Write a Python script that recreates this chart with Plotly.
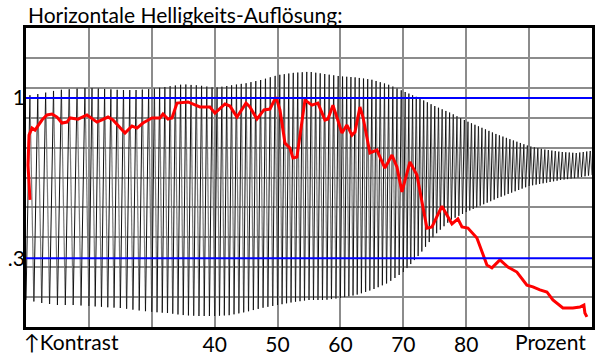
import numpy as np
import plotly.graph_objects as go

# ---- data ----
# red contrast curve (percent, contrast)
mtf_x = [10.64, 10.32, 10.48, 10.95, 11.43, 11.75, 12.54, 13.34, 14.13, 14.93, 15.72, 16.52, 17.0,
         18.27, 19.70, 21.29, 23.04, 23.83, 24.94, 25.74, 26.85, 27.65, 28.60, 30.03, 31.30, 31.78,
         32.58, 33.21, 34.01, 35.76, 37.66, 39.25, 40.05, 41.64, 42.43, 43.55, 44.98, 45.61, 46.72,
         47.84, 48.79, 49.75, 50.38, 51.18, 51.97, 52.45, 53.08, 54.36, 55.47, 56.42, 57.54, 58.01,
         58.81, 60.24, 61.03, 61.83, 62.31, 63.10, 63.58, 64.69, 65.80, 67.07, 68.19, 68.98, 69.78,
         71.05, 72.16, 73.75, 74.55, 76.14, 76.93, 77.73, 78.68, 79.32, 80.27, 81.70, 83.29, 84.09,
         85.36, 86.63, 88.06, 89.65, 90.60, 91.72, 92.83, 93.78, 95.37, 96.96, 98.08, 98.71, 98.87, 99.19]
mtf_y = [0.555, 0.707, 0.838, 0.869, 0.860, 0.873, 0.904, 0.926, 0.930, 0.917, 0.891, 0.895, 0.913,
         0.908, 0.926, 0.895, 0.917, 0.904, 0.869, 0.847, 0.878, 0.869, 0.891, 0.913, 0.913, 0.930,
         0.908, 0.913, 0.978, 0.983, 0.961, 0.961, 0.934, 0.974, 0.965, 0.917, 0.978, 0.961, 0.908,
         0.948, 0.952, 1.004, 0.948, 0.803, 0.782, 0.738, 0.742, 0.991, 0.969, 0.978, 0.904, 0.908,
         0.969, 0.847, 0.882, 0.838, 0.852, 0.961, 0.917, 0.760, 0.773, 0.694, 0.751, 0.699, 0.590,
         0.721, 0.664, 0.432, 0.437, 0.528, 0.489, 0.450, 0.472, 0.437, 0.432, 0.389, 0.271, 0.258,
         0.293, 0.262, 0.240, 0.183, 0.175, 0.162, 0.153, 0.118, 0.083, 0.083, 0.087, 0.096, 0.061, 0.044]

# black sweep signal: envelope (upper / lower) sampled every 2.5 %
env_x = [10, 12.5, 15, 17.5, 20, 22.5, 25, 27.5, 30, 32.5, 35, 37.5, 40, 42.5, 45, 47.5, 50, 52.5,
         55, 57.5, 60, 62.5, 65, 67.5, 70, 72.5, 75, 77.5, 80, 82.5, 85, 87.5, 90, 92.5, 95, 97.5, 100]
env_hi = [1.010, 1.020, 1.035, 1.040, 1.045, 1.040, 1.035, 1.035, 1.040, 1.050, 1.060, 1.055, 1.045,
          1.055, 1.065, 1.080, 1.100, 1.110, 1.115, 1.105, 1.095, 1.090, 1.080, 1.060, 1.030, 1.000,
          0.965, 0.935, 0.900, 0.870, 0.840, 0.815, 0.790, 0.775, 0.765, 0.760, 0.770]
env_lo = [0.118, 0.105, 0.096, 0.096, 0.092, 0.087, 0.083, 0.074, 0.066, 0.061, 0.052, 0.048, 0.048,
          0.052, 0.066, 0.083, 0.096, 0.109, 0.118, 0.118, 0.127, 0.140, 0.162, 0.192, 0.240, 0.314,
          0.402, 0.467, 0.502, 0.533, 0.563, 0.590, 0.616, 0.629, 0.642, 0.651, 0.664]
# sweep cycles counted in each 10 % column
col_start = [10, 20, 30, 40, 50, 60, 70, 80, 90]
col_cycles = [8, 10, 12, 13, 14, 15, 17, 18, 18]

# reference levels and their labels
ref_levels = [1.0, 0.3]
ref_labels = ["1", ".3"]

x_ticks = [10, 20, 30, 40, 50, 60, 70, 80, 90, 100]
x_ticktext = ["", "", "", "40", "50", "60", "70", "80", "", ""]

title_text = "Horizontale Helligkeits-Auflösung:"
left_label = "↑Kontrast"
right_label = "Prozent"

# ---- build sweep strokes from envelope and cycle counts ----
up_x, up_y, dn_x, dn_y = [], [], [], []
for c0, n in zip(col_start, col_cycles):
    for k in range(n):
        xa = c0 + 10.0 * k / n
        xb = xa + 5.0 / n
        xc = xa + 10.0 / n
        ya = float(np.interp(xa, env_x, env_lo))
        yb = float(np.interp(xb, env_x, env_hi))
        yc = float(np.interp(xc, env_x, env_lo))
        up_x += [xa, xb, None]
        up_y += [ya, yb, None]
        dn_x += [xb, xc, None]
        dn_y += [yb, yc, None]

Y_TOP = 1.306
FONT = "Lato"
FS = 21

fig = go.Figure()
fig.add_trace(go.Scatter(x=dn_x, y=dn_y, mode="lines", line=dict(color="#7a7a7a", width=1.2),
                         hoverinfo="skip", showlegend=False, connectgaps=False))
fig.add_trace(go.Scatter(x=up_x, y=up_y, mode="lines", line=dict(color="#101010", width=1),
                         hoverinfo="skip", showlegend=False, connectgaps=False))
for lv in ref_levels:
    fig.add_trace(go.Scatter(x=[10, 100], y=[lv, lv], yaxis="y2", mode="lines",
                             line=dict(color="#0000ff", width=2), hoverinfo="skip", showlegend=False))
fig.add_trace(go.Scatter(x=mtf_x, y=mtf_y, mode="lines", line=dict(color="#ff0000", width=3),
                         showlegend=False))

axis_common = dict(showline=True, mirror=True, linecolor="black", linewidth=3, zeroline=False,
                   ticks="", automargin=False)
fig.update_layout(
    width=600, height=357,
    margin=dict(l=26, r=8, t=28, b=30, autoexpand=False),
    paper_bgcolor="white", plot_bgcolor="white",
    font=dict(family=FONT, color="black", size=FS),
    xaxis=dict(range=[10, 100], tickmode="array", tickvals=x_ticks, ticktext=x_ticktext,
               showgrid=True, gridcolor="#8c8c8c", gridwidth=1.5, ticklabelstandoff=-3,
               tickfont=dict(family=FONT, size=FS, color="black"), **axis_common),
    yaxis=dict(range=[0, Y_TOP], tick0=0, dtick=Y_TOP / 10, showticklabels=False,
               showgrid=True, gridcolor="#8c8c8c", gridwidth=1.5, **axis_common),
    yaxis2=dict(range=[0, Y_TOP], overlaying="y", side="left", tickmode="array",
                tickvals=ref_levels, ticktext=ref_labels, showgrid=False, zeroline=False,
                showline=False, ticks="", automargin=False,
                tickfont=dict(family=FONT, size=FS, color="black")),
    annotations=[
        dict(text=title_text, xref="paper", yref="paper", x=0.0, y=1.0, xanchor="left",
             yanchor="bottom", showarrow=False, font=dict(family=FONT, size=FS, color="black"),
             yshift=-1),
        dict(text=left_label, xref="paper", yref="paper", x=-0.007, y=0, xanchor="left",
             yanchor="top", showarrow=False, font=dict(family=FONT, size=FS, color="black"),
             yshift=0),
        dict(text=right_label, xref="paper", yref="paper", x=0.993, y=0, xanchor="right",
             yanchor="top", showarrow=False, font=dict(family=FONT, size=FS, color="black"),
             yshift=0),
    ],
)
fig.write_html("out.html", config={"displayModeBar": False},
               post_script="document.body.style.margin='0';document.body.style.padding='0';")
